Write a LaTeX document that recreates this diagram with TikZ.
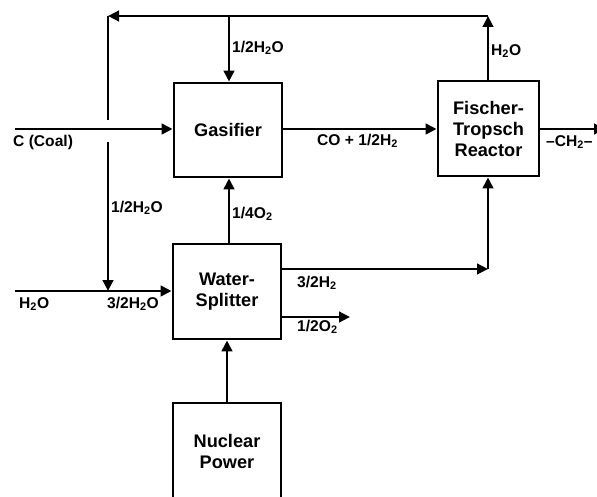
\documentclass[tikz,border=0pt]{standalone}
\usepackage{fontspec}
\setmainfont{Liberation Sans}
\usetikzlibrary{arrows.meta}
\tikzset{
  box/.style={draw, line width=2.8pt, align=center, font=\bfseries\fontsize{18.2}{21}\selectfont},
  arr/.style={line width=2.7pt, -{Triangle[length=11pt,width=10.5pt]}},
  ln/.style={line width=2.7pt},
  lbl/.style={anchor=west, inner sep=0pt, font=\bfseries\fontsize{15.6}{17}\selectfont}
}
\begin{document}
\begin{tikzpicture}[x=1pt,y=-1pt]
\clip (0,0) rectangle (597,497);
\fill[white] (0,0) rectangle (597,497);
% boxes
\node[box, minimum width=108pt, minimum height=94pt] (gas) at (228,130) {Gasifier};
\node[box, minimum width=101pt, minimum height=95pt] (ft) at (488.5,128.5) {Fischer-\\Tropsch\\Reactor};
\node[box, minimum width=108pt, minimum height=95pt] (ws) at (227,291.5) {Water-\\Splitter};
\node[box, minimum width=108pt, minimum height=97pt] (nuc) at (227,451.5) {Nuclear\\Power};
% coordinates
\coordinate (coal) at (15,129);
\coordinate (h2oin) at (15,291);
\coordinate (tr) at (488,16);
\coordinate (tm) at (229,16);
\coordinate (tl) at (108,16);
\coordinate (gapT) at (108,120);
\coordinate (gapB) at (108,142);
\coordinate (mix) at (108,291);
\coordinate (c1) at (488,269);
\coordinate (o2end) at (350,317);
\coordinate (chout) at (605,129);
% connectors
\draw[arr] (coal) -- (gas.west |- coal);
\draw[arr] (gas.east |- coal) -- (ft.west |- coal);
\draw[arr] (ft.east |- coal) -- (chout);
\draw[arr] (ft.north -| tr) -- (tr);
\draw[arr] (tr) -- (tl);
\draw[ln] (tl) -- (gapT);
\draw[arr] (gapB) -- (mix);
\draw[arr] (tm) -- (gas.north -| tm);
\draw[arr] (h2oin) -- (ws.west |- h2oin);
\draw[arr] (ws.north -| tm) -- (gas.south -| tm);
\draw[arr] (nuc.north) -- (ws.south);
\draw[arr] (ws.east |- c1) -- (c1);
\draw[arr] (c1) -- (ft.south -| c1);
\draw[arr] (ws.east |- o2end) -- (o2end);
% labels
\node[lbl] (l1) at (232,48) {1/2H\textsubscript{2}O};
\node[lbl] (l2) at (13,142) {C (Coal)};
\node[lbl] (l3) at (111,208) {1/2H\textsubscript{2}O};
\node[lbl] (l4) at (232,214) {1/4O\textsubscript{2}};
\node[lbl] (l5) at (317,141) {CO + 1/2H\textsubscript{2}};
\node[lbl] (l6) at (491,51) {H\textsubscript{2}O};
\node[lbl] (l7) at (546,142) {\textendash CH\textsubscript{2}\textendash};
\node[lbl] (l8) at (19,304) {H\textsubscript{2}O};
\node[lbl] (l9) at (107,304) {3/2H\textsubscript{2}O};
\node[lbl] (l10) at (297,283) {3/2H\textsubscript{2}};
\node[lbl] (l11) at (297,327) {1/2O\textsubscript{2}};
\end{tikzpicture}
\end{document}
